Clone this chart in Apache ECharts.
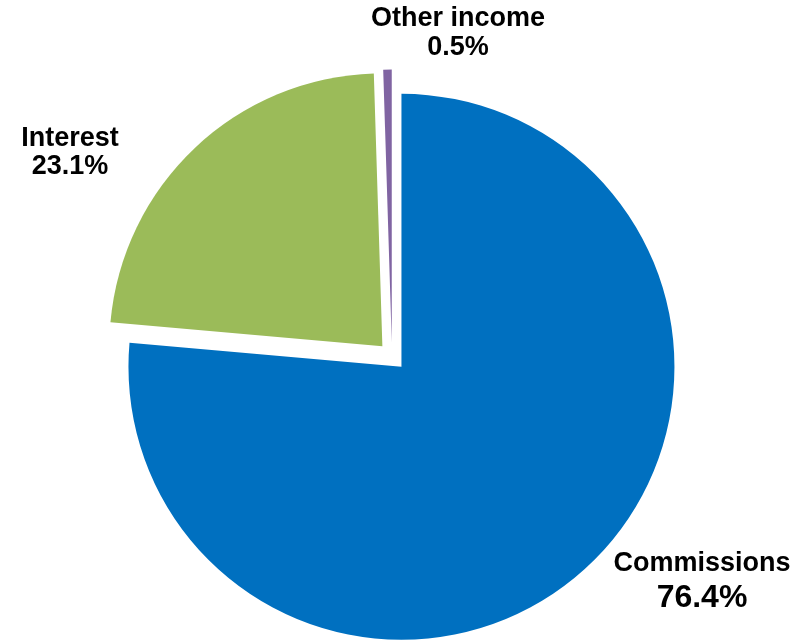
<!DOCTYPE html>
<html>
<head>
<meta charset="utf-8">
<script src="https://cdn.jsdelivr.net/npm/echarts@6/dist/echarts.min.js"></script>
<style>
html,body{margin:0;padding:0;background:#fff;}
#chart{width:812px;height:640px;}
</style>
</head>
<body>
<div id="chart"></div>
<script>
var categories = ['Commissions', 'Interest', 'Other income'];
var shares = [76.4, 23.1, 0.5];
var colors = ['#0070C0', '#9BBB59', '#8064A2'];
// label line centres: [x, nameY, percentY]
var labelAnchors = [[702, 564, 598], [70, 139, 167], [458, 19, 48]];

var FONT = '"Liberation Sans", Arial, sans-serif';
var chart = echarts.init(document.getElementById('chart'), null, {renderer: 'canvas'});
var data = categories.map(function (name, i) {
  return {
    name: name,
    value: shares[i],
    selected: true,
    itemStyle: {color: colors[i]}
  };
});
var texts = [];
categories.forEach(function (name, i) {
  var a = labelAnchors[i];
  var big = i === 0;
  texts.push({
    type: 'text', x: a[0], y: a[1], silent: true,
    style: {text: name, fill: '#000', font: 'bold 27px ' + FONT, textAlign: 'center', textVerticalAlign: 'middle'}
  });
  texts.push({
    type: 'text', x: a[0], y: a[2], silent: true,
    style: {text: shares[i].toFixed(1) + '%', fill: '#000', font: 'bold ' + (big ? 32 : 27) + 'px ' + FONT, textAlign: 'center', textVerticalAlign: 'middle'}
  });
});
chart.setOption({
  animation: false,
  backgroundColor: '#ffffff',
  graphic: texts,
  series: [{
    type: 'pie',
    center: [392, 356.5],
    radius: 273,
    startAngle: 90,
    clockwise: true,
    selectedMode: 'multiple',
    selectedOffset: 14,
    emphasis: {disabled: true},
    labelLine: {show: false},
    label: {show: false},
    data: data
  }]
});
</script>
</body>
</html>
